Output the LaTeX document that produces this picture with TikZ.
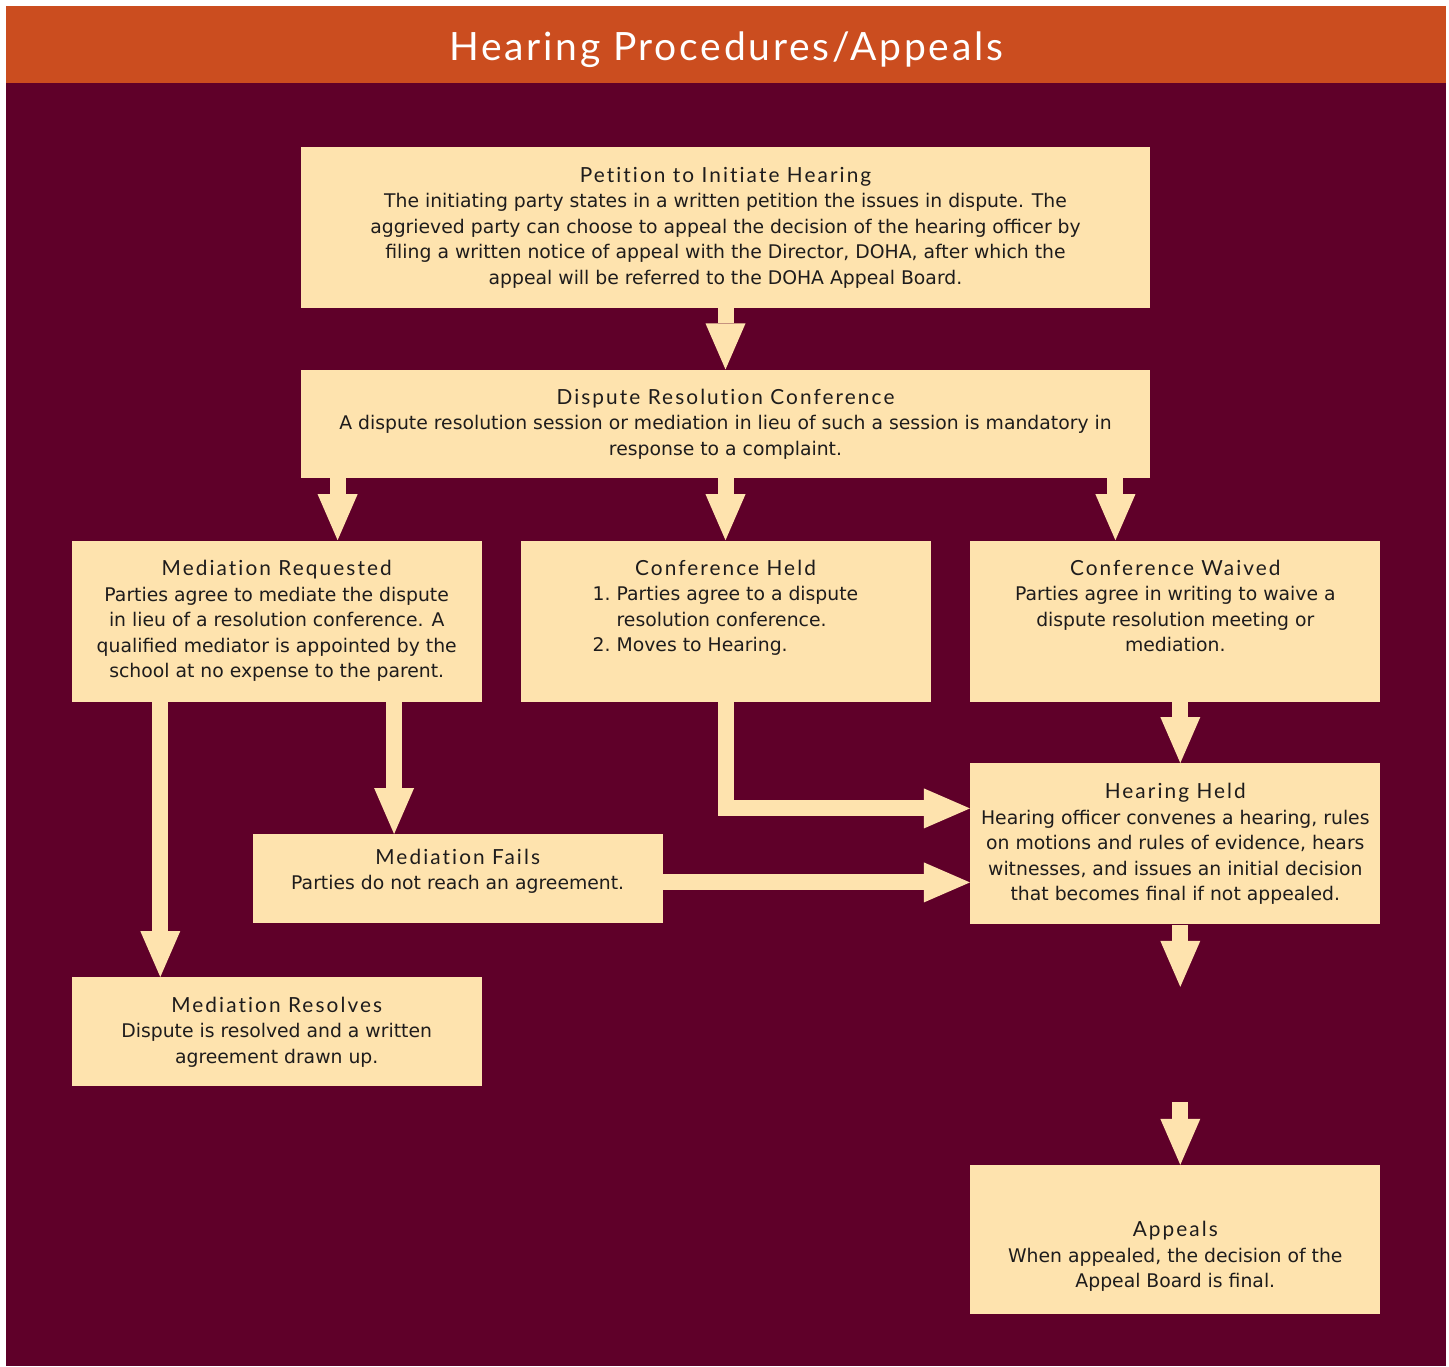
\documentclass[tikz,border=0pt]{standalone}
\usepackage{fontspec}
\setmainfont{DejaVu Sans}
\newfontfamily\headfont[Ligatures=NoCommon]{Lato}
\usetikzlibrary{arrows.meta,positioning}
\definecolor{banner}{RGB}{203,77,31}
\definecolor{wine}{RGB}{95,0,41}
\definecolor{paper}{RGB}{254,227,174}
\definecolor{ink}{RGB}{30,28,28}
\newcommand{\hd}[1]{{\headfont\addfontfeature{LetterSpace=10}\fontsize{10.4}{12.75}\selectfont #1}}
\newcommand{\pinned}[3]{\parbox[c][#2][#1]{200pt}{\centering #3}}

\begin{document}
\begin{tikzpicture}[
      x=0.5pt, y=-0.5pt, font=\fontsize{9.4}{12.75}\selectfont,
      stage/.style={fill=paper, text=ink, align=center, inner sep=0pt,
                    minimum width=205pt, minimum height=80.5pt},
      wide/.style={stage, minimum width=424.5pt},
      flow/.style={draw=paper, line width=8pt,
                   -{Triangle[length=23pt, width=20pt, line width=0pt]}},
    ]
    % backdrop and banner
    \fill[white] (0,0) rectangle (1449,1366);
    \fill[banner] (6,6) rectangle (1446,83);
    \fill[wine] (6,83) rectangle (1446,1366);
    \node[anchor=base, text=white,
          font=\headfont\addfontfeature{LetterSpace=7}\fontsize{19.5}{24}\selectfont]
          (title) at (726,60) {Hearing Procedures/Appeals};

    % main chain
    \node[wide] (petition) at (725.5,227.5) {\hd{Petition to Initiate Hearing}\\
      The initiating party states in a written petition the issues in dispute. The\\
      aggrieved party can choose to appeal the decision of the hearing officer by\\
      filing a written notice of appeal with the Director, DOHA, after which the\\
      appeal will be referred to the DOHA Appeal Board.};
    \node[wide, minimum height=54pt, below=30.5pt of petition] (dispute)
      {\hd{Dispute Resolution Conference}\\
      A dispute resolution session or mediation in lieu of such a session is mandatory in\\
      response to a complaint.};

    % three outcomes
    \node[stage, below=31pt of dispute] (held) {\pinned{t}{61pt}{\hd{Conference Held}\\
      \begin{tabular}[t]{@{}r@{\ }l@{}}
        1.&Parties agree to a dispute\\
          &resolution conference.\\
        2.&Moves to Hearing.
      \end{tabular}}};
    \node[stage, left=19pt of held] (medreq) {\hd{Mediation Requested}\\
      Parties agree to mediate the dispute\\
      in lieu of a resolution conference. A\\
      qualified mediator is appointed by the\\
      school at no expense to the parent.};
    \node[stage, right=19.5pt of held] (waived) {\pinned{t}{61pt}{\hd{Conference Waived}\\
      Parties agree in writing to waive a\\
      dispute resolution meeting or\\
      mediation.}};

    \node[stage, below=30.5pt of waived] (hearing) {\hd{Hearing Held}\\
      Hearing officer convenes a hearing, rules\\
      on motions and rules of evidence, hears\\
      witnesses, and issues an initial decision\\
      that becomes final if not appealed.};
    \node[stage, minimum height=44.5pt, below=66pt of medreq, xshift=90.5pt] (fails)
      {\pinned{t}{30pt}{\hd{Mediation Fails}\\
      Parties do not reach an agreement.}};
    \node[stage, minimum height=54.5pt, below=137.5pt of medreq] (resolves)
      {\hd{Mediation Resolves}\\
      Dispute is resolved and a written\\
      agreement drawn up.};
    \node[stage, minimum height=74.5pt, below=120pt of hearing] (appeals)
      {\pinned{b}{50pt}{\hd{Appeals}\\
      When appealed, the decision of the\\
      Appeal Board is final.}};

    \coordinate[below=31pt of hearing, xshift=2.5pt] (gapin);
    \coordinate[above=31.5pt of appeals, xshift=2.5pt] (gapout);

    % flows
    \draw[flow] (petition) -- (dispute);
    \draw[flow] ([xshift=18.5pt]dispute.south west) -- ([xshift=18.5pt]dispute.south west |- medreq.north);
    \draw[flow] (held.north |- dispute.south) -- (held.north);
    \draw[flow] ([xshift=-17.5pt]dispute.south east) -- ([xshift=-17.5pt]dispute.south east |- waived.north);
    \draw[flow] ([xshift=44.5pt]medreq.south west) -- ([xshift=44.5pt]medreq.south west |- resolves.north);
    \draw[flow] ([xshift=-44pt]medreq.south east) -- ([xshift=-44pt]medreq.south east |- fails.north);
    \draw[flow] (held.south) |- ([yshift=17.75pt]hearing.west);
    \draw[flow] ([yshift=-19.25pt]hearing.west -| fails.east) -- ([yshift=-19.25pt]hearing.west);
    \draw[flow] ([xshift=2.5pt]waived.south) -- ([xshift=2.5pt]hearing.north);
    \draw[flow] ([xshift=2.5pt]hearing.south) -- (gapin);
    \draw[flow] (gapout) -- ([xshift=2.5pt]appeals.north);
  \end{tikzpicture}
\end{document}
